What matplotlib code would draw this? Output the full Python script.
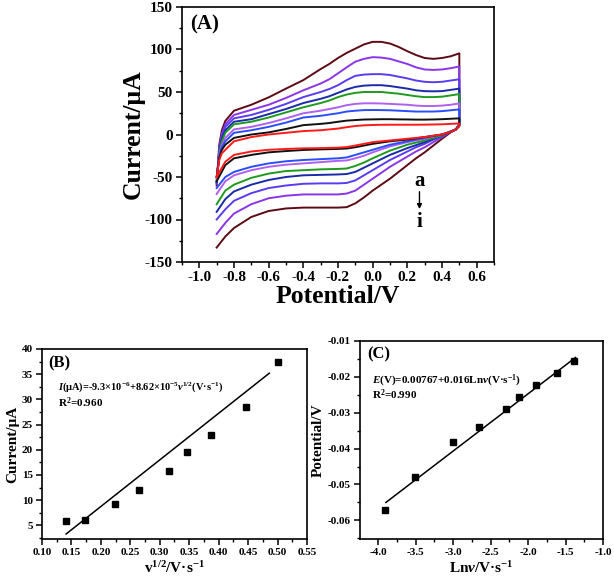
import matplotlib
matplotlib.use("Agg")
import matplotlib.pyplot as plt
from matplotlib.ticker import MultipleLocator, FormatStrFormatter

plt.rcParams["font.family"] = ["Liberation Serif", "DejaVu Serif"]
plt.rcParams["font.weight"] = "bold"
plt.rcParams["axes.unicode_minus"] = False
plt.rcParams["mathtext.fontset"] = "custom"
plt.rcParams["mathtext.rm"] = "Liberation Serif:bold"
plt.rcParams["mathtext.it"] = "Liberation Serif:bold:italic"
plt.rcParams["mathtext.bf"] = "Liberation Serif:bold"

# -----------------------------------------------------------------------------
# data (A): cyclic voltammograms a..i
# -----------------------------------------------------------------------------
E_fwd = [-0.9, -0.885, -0.87, -0.85, -0.8, -0.7, -0.6, -0.5, -0.4, -0.3,
         -0.25, -0.2, -0.15, -0.1, -0.05, 0.0, 0.05, 0.1, 0.15, 0.2, 0.25,
         0.3, 0.35, 0.4, 0.45, 0.5]
E_rev = [0.5, 0.48, 0.45, 0.4, 0.35, 0.3, 0.25, 0.2, 0.15, 0.1, 0.05, 0.0,
         -0.05, -0.1, -0.15, -0.2, -0.3, -0.4, -0.5, -0.6, -0.7, -0.8, -0.85, -0.9]

I_fwd = [
    [-50, -30, -22, -18, -8, -3, 0, 2, 4, 5, 6, 7, 8.6, 10, 10.8, 11.2, 11.4, 11.5, 11.5, 11.5, 11.5, 11.6, 11.8, 12, 12.5, 13],
    [-50, -28, -18, -12, -4, 0, 2.5, 6.5, 11, 12.5, 13.5, 15, 16.3, 17, 17.6, 17.8, 18, 18, 17.8, 17.7, 17.5, 17.5, 17.7, 18, 18.5, 19],
    [-50, -26, -15, -8, 2, 5, 9, 14, 20, 22, 23.5, 25, 27, 28, 28.7, 28.8, 28.7, 28.5, 28, 27.5, 27, 27, 27, 27.5, 28.5, 29.5],
    [-52, -24, -12, -4, 6, 9, 13.5, 19, 25, 28, 30, 32, 34.5, 36, 36.7, 36.7, 36.5, 36, 35.5, 35, 34, 33.5, 33.5, 34, 35, 36.5],
    [-55, -22, -8, 2, 12, 15, 20, 26, 32, 37, 40, 44, 47, 49, 50, 50, 50, 49, 48, 46.5, 45, 44, 44, 44.5, 46, 47.5],
    [-56, -20, -5, 5, 15, 18, 24, 30, 37, 42, 45, 49, 53, 56, 57.5, 58, 58, 57, 55.5, 54, 52, 51, 50.8, 51, 52.5, 54],
    [-57, -18, -2, 9, 19, 23, 29, 36, 44, 50, 53.5, 58, 64, 69, 70.5, 71, 71, 70, 68, 66, 63.5, 62, 61.5, 62, 63.5, 65],
    [-58, -15, 1, 12, 23, 29, 35, 43, 52, 60, 65, 72, 79, 85.7, 89, 91, 90.5, 89, 86, 83, 79, 76.5, 76, 76.5, 78, 80],
    [-60, -12, 5, 16, 28, 35, 43.7, 54, 64, 77, 83, 90, 96, 101, 106, 109, 109, 107, 103, 98, 93.5, 90, 89, 90, 92, 95.5],
]
I_rev = [
    [10, 6, 3, 0, -1.5, -3, -4, -5, -6, -7, -8, -9, -11, -13, -14.8, -15.5, -16, -16.3, -17, -18, -20, -24, -32, -50],
    [10, 6, 3, 0, -1.5, -3, -4.5, -6, -7, -8, -9.5, -11, -13, -15, -16.5, -17, -17.5, -18.2, -19.5, -21, -24, -28, -36, -55],
    [11, 6, 3.5, 0, -2, -4, -6, -8, -10, -12, -15, -18, -21, -24, -27, -28, -29, -30, -31.5, -34, -38, -44, -50, -63],
    [11, 6, 3.5, 0, -2.5, -5, -7, -9, -11.5, -14, -17.5, -21, -25, -28, -30.5, -31, -32.5, -34, -35.5, -38, -42, -48, -55, -70],
    [12, 6, 3.5, -1, -4, -7, -9.5, -12, -15.5, -19, -23.5, -28, -33, -37, -40, -40.5, -41, -42, -43, -46, -51, -59, -66, -82],
    [12, 6, 3.5, -1, -5, -9, -12.5, -16, -20, -24, -29, -34, -39, -44, -46.5, -47, -47.5, -48, -50, -53.5, -59, -67, -76, -91],
    [12, 6, 3.5, -2, -6, -11, -15, -20, -25, -30, -36, -42, -48, -54, -57, -57.5, -57.5, -58, -60, -63, -69, -78, -88, -100],
    [12, 6, 3, -3, -9, -15, -20, -26, -32, -38, -45, -52, -59, -66, -69.5, -70.5, -70.5, -70.5, -72, -75, -82, -93, -104, -117],
    [10, 6, 2.5, -5, -13, -21, -28, -36, -44, -52, -59, -66, -74, -81, -85.5, -86, -86, -86, -87, -90, -97, -110, -120, -133],
]
cv_colors = ["#ff1a1a", "#111111", "#2a4dff", "#b060f0", "#1e9a1e",
             "#1a2aa8", "#5a3cf0", "#8a35e8", "#5c0a14"]

# -----------------------------------------------------------------------------
# data (B): peak current vs v^1/2
# -----------------------------------------------------------------------------
v_sqrt = [0.141, 0.173, 0.224, 0.265, 0.316, 0.346, 0.387, 0.447, 0.5]
I_peak = [5.9, 6.1, 9.3, 12.0, 15.8, 19.5, 23.0, 28.5, 37.4]
I_err = [0.2, 0.2, 0.3, 0.5, 0.3, 0.6, 0.5, 0.4, 0.3]
B_fit_x = [0.141, 0.486]
B_fit_y = [3.3, 35.2]

# -----------------------------------------------------------------------------
# data (C): peak potential vs ln v
# -----------------------------------------------------------------------------
ln_v = [-3.91, -3.51, -3.00, -2.66, -2.30, -2.12, -1.90, -1.61, -1.386]
E_peak = [-0.057, -0.048, -0.0381, -0.0340, -0.0289, -0.0256, -0.0223, -0.0190, -0.0155]
C_fit_x = [-3.894, -1.366]
C_fit_y = [-0.0550, -0.0146]


def style(ax, fs):
    for s in ax.spines.values():
        s.set_linewidth(1.2)
    ax.tick_params(which="major", direction="out", length=4, width=1.1,
                   labelsize=fs, pad=2.5)
    ax.tick_params(which="minor", direction="out", length=2.2, width=1.0)
    for lab in ax.get_xticklabels() + ax.get_yticklabels():
        lab.set_fontweight("bold")


fig = plt.figure(figsize=(6.14, 5.78), dpi=100)

# -----------------------------------------------------------------------------
# (A)
# -----------------------------------------------------------------------------
axA = fig.add_axes([182 / 614, 1 - 262 / 578, 312 / 614, 255 / 578])
for i in range(len(I_fwd) - 1, -1, -1):
    axA.plot(E_fwd + E_rev, I_fwd[i] + I_rev[i], color=cv_colors[i], lw=1.4)
axA.set_xlim(-1.1, 0.7)
axA.set_ylim(-150, 150)
axA.xaxis.set_major_locator(MultipleLocator(0.2))
axA.xaxis.set_minor_locator(MultipleLocator(0.1))
axA.yaxis.set_major_locator(MultipleLocator(50))
axA.yaxis.set_minor_locator(MultipleLocator(25))
axA.xaxis.set_major_formatter(FormatStrFormatter("%.1f"))
style(axA, 11)
axA.set_xlabel("Potential/V", fontsize=18.5, fontweight="bold", labelpad=1)
axA.set_ylabel("Current/μA", fontsize=18.5, fontweight="bold", labelpad=0)
axA.text(0.026, 0.93, "(A)", transform=axA.transAxes, fontsize=15,
         fontweight="bold", va="center")
axA.text(0.27, -55, "a", fontsize=15, fontweight="bold", ha="center", va="center")
axA.text(0.27, -103, "i", fontsize=15, fontweight="bold", ha="center", va="center")
axA.annotate("", xy=(0.27, -91), xytext=(0.27, -64),
             arrowprops=dict(arrowstyle="-|>", color="black", lw=1.0,
                             mutation_scale=7))

# -----------------------------------------------------------------------------
# (B)
# -----------------------------------------------------------------------------
axB = fig.add_axes([42 / 614, 1 - 539 / 578, 265 / 614, 190 / 578])
axB.errorbar(v_sqrt, I_peak, yerr=I_err, fmt="s", color="black", ms=4,
             elinewidth=0.8, capsize=0)
axB.plot(B_fit_x, B_fit_y, color="black", lw=1.1)
axB.set_xlim(0.10, 0.55)
axB.set_ylim(2.3, 40)
axB.xaxis.set_major_locator(MultipleLocator(0.05))
axB.xaxis.set_minor_locator(MultipleLocator(0.025))
axB.yaxis.set_major_locator(MultipleLocator(5))
axB.yaxis.set_minor_locator(MultipleLocator(2.5))
axB.xaxis.set_major_formatter(FormatStrFormatter("%.2f"))
style(axB, 8)
axB.set_xlabel("v$^{1/2}$/V·s$^{-1}$", fontsize=11, fontweight="bold", labelpad=2)
axB.set_ylabel("Current/μA", fontsize=11, fontweight="bold", labelpad=2)
axB.text(0.023, 0.925, "(B)", transform=axB.transAxes, fontsize=12,
         fontweight="bold", va="center")
axB.text(0.06, 0.80,
         "$\\mathit{I}$(μA)=-9.3×10$^{-6}$+8.62×10$^{-5}$$\\mathit{v}$$^{1/2}$(V·s$^{-1}$)",
         transform=axB.transAxes, fontsize=7.5, fontweight="bold", va="center")
axB.text(0.06, 0.72, "R$^{2}$=0.960", transform=axB.transAxes, fontsize=8,
         fontweight="bold", va="center")

# -----------------------------------------------------------------------------
# (C)
# -----------------------------------------------------------------------------
axC = fig.add_axes([360 / 614, 1 - 539 / 578, 243 / 614, 198 / 578])
axC.plot(ln_v, E_peak, "s", color="black", ms=4)
axC.plot(C_fit_x, C_fit_y, color="black", lw=1.1)
axC.set_xlim(-4.24, -1.0)
axC.set_ylim(-0.0652, -0.01)
axC.xaxis.set_major_locator(MultipleLocator(0.5))
axC.xaxis.set_minor_locator(MultipleLocator(0.25))
axC.yaxis.set_major_locator(MultipleLocator(0.01))
axC.yaxis.set_minor_locator(MultipleLocator(0.005))
axC.xaxis.set_major_formatter(FormatStrFormatter("%.1f"))
axC.yaxis.set_major_formatter(FormatStrFormatter("%.2f"))
style(axC, 8)
axC.set_xlabel("Ln$\\mathit{v}$/V·s$^{-1}$", fontsize=11, fontweight="bold", labelpad=2)
axC.set_ylabel("Potential/V", fontsize=11, fontweight="bold", labelpad=2)
axC.text(0.029, 0.93, "(C)", transform=axC.transAxes, fontsize=12,
         fontweight="bold", va="center")
axC.text(0.05, 0.80, "$\\mathit{E}$(V)=0.00767+0.016Ln$\\mathit{v}$(V·s$^{-1}$)",
         transform=axC.transAxes, fontsize=8, fontweight="bold", va="center")
axC.text(0.05, 0.727, "R$^{2}$=0.990", transform=axC.transAxes, fontsize=8,
         fontweight="bold", va="center")

fig.savefig("out.png", dpi=100)
